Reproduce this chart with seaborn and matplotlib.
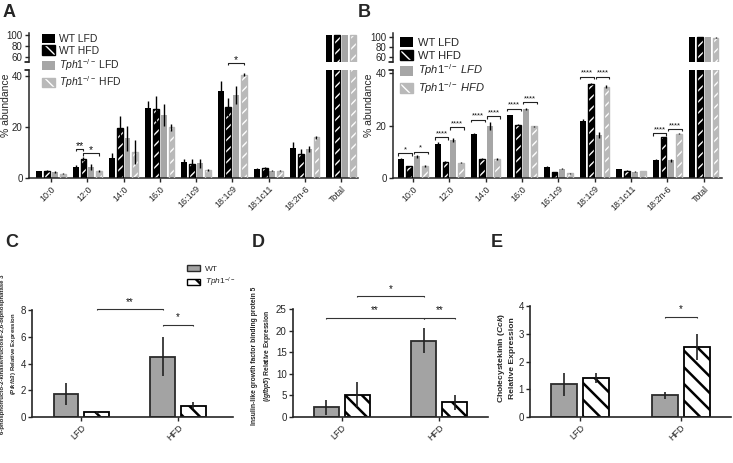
import numpy as np
import pandas as pd
import matplotlib
matplotlib.use("Agg")
import matplotlib.pyplot as plt
import seaborn as sns
from matplotlib.patches import Patch, Rectangle
from matplotlib.container import BarContainer

sns.set_theme(style="ticks")
plt.rcParams["font.family"] = ["Liberation Sans", "DejaVu Sans"]
plt.rcParams["mathtext.fontset"] = "custom"
plt.rcParams["mathtext.rm"] = "Liberation Sans"
plt.rcParams["mathtext.it"] = "Liberation Sans:italic"
plt.rcParams["mathtext.bf"] = "Liberation Sans:bold"
plt.rcParams["mathtext.sf"] = "Liberation Sans:bold:italic"

# ---------------- data ----------------
fatty_acids = ["10:0", "12:0", "14:0", "16:0", "16:1c9", "18:1c9", "18:1c11", "18:2n-6", "Total"]
groups = ["WT LFD", "WT HFD", "Tph1 LFD", "Tph1 HFD"]

A_wt_lfd = [2.6, 4.4, 7.9, 27.4, 6.1, 33.9, 3.7, 11.8, 100]
A_wt_hfd = [2.9, 7.5, 19.6, 27.0, 5.6, 27.9, 4.1, 9.3, 100]
A_tph_lfd = [2.4, 4.4, 15.5, 24.6, 5.7, 32.4, 2.9, 11.5, 100]
A_tph_hfd = [1.7, 2.9, 10.2, 19.9, 3.3, 40.5, 2.9, 15.9, 100]
A_wt_lfd_err = [0.3, 0.5, 1.7, 2.6, 1.2, 4.2, 0.2, 2.4, 0.5]
A_wt_hfd_err = [0.4, 0.8, 4.6, 5.0, 1.7, 3.6, 0.3, 1.9, 0.5]
A_tph_lfd_err = [0.3, 1.2, 4.8, 4.2, 1.7, 3.5, 0.3, 1.2, 0.5]
A_tph_hfd_err = [0.3, 0.4, 4.7, 1.3, 0.4, 0.7, 0.3, 0.7, 0.5]

B_wt_lfd = [7.3, 13.1, 16.9, 24.0, 4.2, 21.8, 3.3, 6.9, 100]
B_wt_hfd = [4.5, 6.2, 7.3, 20.4, 2.1, 35.8, 2.8, 15.5, 100]
B_tph_lfd = [8.3, 14.5, 19.9, 26.3, 3.6, 16.3, 2.4, 6.8, 100.5]
B_tph_hfd = [4.6, 5.9, 7.2, 19.7, 1.8, 34.9, 2.6, 16.9, 99]
B_wt_lfd_err = [0.3, 0.5, 0.4, 0.2, 0.2, 0.8, 0.1, 0.3, 0.2]
B_wt_hfd_err = [0.2, 0.2, 0.2, 0.3, 0.1, 0.3, 0.1, 0.2, 0.2]
B_tph_lfd_err = [0.6, 0.8, 1.5, 0.5, 0.3, 1.2, 0.1, 0.6, 0.5]
B_tph_hfd_err = [0.3, 0.2, 0.3, 0.3, 0.1, 0.5, 0.1, 0.3, 0.5]

# brackets: (category, group a, group b, height, label)
A_brackets = [(1, 0, 1, 11.3, "**"), (1, 1, 3, 9.7, "*"), (5, 1, 3, 45.0, "*")]
B_brackets = [(0, 0, 1, 9.4, "*"), (0, 2, 3, 10.0, "*"),
              (1, 0, 1, 15.5, "****"), (1, 2, 3, 19.4, "****"),
              (2, 0, 1, 22.2, "****"), (2, 2, 3, 23.5, "****"),
              (3, 0, 1, 26.5, "****"), (3, 2, 3, 29.0, "****"),
              (5, 0, 1, 38.7, "****"), (5, 2, 3, 38.7, "****"),
              (7, 0, 1, 17.0, "****"), (7, 2, 3, 18.7, "****")]

diets = ["LFD", "HFD"]
genotypes = ["WT", "Tph1"]
C_wt = [1.72, 4.5]
C_wt_err = [0.8, 1.45]
C_tph = [0.35, 0.85]
C_tph_err = [0.1, 0.25]
D_wt = [2.2, 17.6]
D_wt_err = [1.7, 2.9]
D_tph = [5.2, 3.4]
D_tph_err = [2.8, 1.8]
E_wt = [1.18, 0.78]
E_wt_err = [0.42, 0.12]
E_tph = [1.4, 2.52]
E_tph_err = [0.18, 0.47]
# (diet a, geno a, diet b, geno b, height, label)
C_brackets = [(0, 1, 1, 0, 8.05, "**"), (1, 0, 1, 1, 6.9, "*")]
D_brackets = [(0, 0, 1, 0, 23.0, "**"), (1, 0, 1, 1, 23.0, "**"), (0, 1, 1, 0, 28.0, "*")]
E_brackets = [(1, 0, 1, 1, 3.62, "*")]

# ---------------- styling ----------------
BLACK = "#000000"
GREY = "#a6a6a6"
LGREY = "#b9b9b9"
fa_colors = [BLACK, BLACK, GREY, LGREY]
fa_hatched = [False, True, False, True]

W, H = 733, 463
fig = plt.figure(figsize=(W / 100, H / 100), dpi=100)


def add_ax(l, t, r, b):
    return fig.add_axes([l / W, 1 - b / H, (r - l) / W, (b - t) / H])


def set_hlw(p, lw):
    if hasattr(p, "set_hatch_linewidth"):
        try:
            p.set_hatch_linewidth(lw)
        except Exception:
            pass


def bar_containers(ax):
    return [c for c in ax.containers if isinstance(c, BarContainer)]


def bracket(ax, x1, x2, y, label, tick, fs, lw=0.8, color="#222222", pad=0.0):
    ax.plot([x1, x1, x2, x2], [y - tick, y, y, y - tick], color=color, lw=lw,
            clip_on=False, solid_capstyle="butt", zorder=6)
    ax.text((x1 + x2) / 2, y + pad, label, ha="center", va="bottom", fontsize=fs,
            color="#111111", clip_on=False, zorder=6)


def draw_fa(ax_top, ax_bot, vals, errs, ylim_top, ylim_bot, xlim, brackets, use_edges):
    df = pd.DataFrame({
        "fa": np.tile(fatty_acids, len(groups)),
        "group": np.repeat(groups, len(fatty_acids)),
        "value": np.concatenate(vals),
    })
    plt.rcParams["hatch.linewidth"] = 1.0
    for ax in (ax_top, ax_bot):
        sns.barplot(data=df, x="fa", y="value", hue="group", order=fatty_acids,
                    hue_order=groups, palette=fa_colors, width=0.86, gap=0.25,
                    saturation=1, errorbar=None, legend=False, ax=ax, linewidth=0)
        conts = bar_containers(ax)
        for h, cont in enumerate(conts):
            xs, ys = [], []
            for rect in cont:
                if fa_hatched[h]:
                    rect.set_edgecolor("white")
                    rect.set_hatch("///")
                    rect.set_linewidth(0)
                    set_hlw(rect, 1.0)
                    ax.add_patch(Rectangle(rect.get_xy(), rect.get_width(), rect.get_height(),
                                           fill=False, ec=fa_colors[h], lw=1.0, zorder=3))
                else:
                    rect.set_edgecolor("none")
                xs.append(rect.get_x() + rect.get_width() / 2)
                ys.append(rect.get_height())
            ax.errorbar(xs, ys, yerr=errs[h], fmt="none", ecolor="black", elinewidth=1.0,
                        capsize=0, zorder=5)
        ax.set_xlim(*xlim)
        ax.set_xlabel("")
        ax.set_ylabel("")
        for s in ("top", "right"):
            ax.spines[s].set_visible(False)
        ax.spines["left"].set_linewidth(1.1)
        ax.spines["bottom"].set_linewidth(1.1)
        ax.tick_params(axis="both", direction="out", length=3, width=1.0, labelsize=7, pad=1.5)
    ax_top.set_ylim(*ylim_top)
    ax_top.set_yticks([60, 80, 100])
    ax_top.spines["bottom"].set_visible(False)
    ax_top.set_xticks([])
    ax_top.plot([-0.012, 0], [0, 0], transform=ax_top.transAxes, color="black", lw=1.1, clip_on=False)
    ax_bot.set_ylim(*ylim_bot)
    ax_bot.set_yticks([0, 20, 40])
    ax_bot.plot([-0.012, 0.0], [1, 1], transform=ax_bot.transAxes, color="black", lw=1.1, clip_on=False)
    ax_bot.set_xticks(range(len(fatty_acids)))
    ax_bot.set_xticklabels(fatty_acids, rotation=45, ha="right", rotation_mode="anchor", fontsize=6.5)
    conts = bar_containers(ax_bot)
    for (c, a, b, y, lab) in brackets:
        ra = conts[a][c]
        rb = conts[b][c]
        if use_edges:
            x1 = ra.get_x()
            x2 = rb.get_x() + rb.get_width()
            bracket(ax_bot, x1, x2, y, lab, 0.9, 5.5, lw=0.8)
        else:
            x1 = ra.get_x() + ra.get_width() / 2
            x2 = rb.get_x() + rb.get_width() / 2
            bracket(ax_bot, x1, x2, y, lab, 0.9, 7.5, lw=0.8, pad=-0.6)


axA_top = add_ax(29, 33, 358, 62)
axA_bot = add_ax(29, 70, 358, 178)
axB_top = add_ax(393, 33, 722, 62)
axB_bot = add_ax(393, 70, 722, 178)

draw_fa(axA_top, axA_bot, [A_wt_lfd, A_wt_hfd, A_tph_lfd, A_tph_hfd],
        [A_wt_lfd_err, A_wt_hfd_err, A_tph_lfd_err, A_tph_hfd_err],
        (51, 104), (0, 42.3), (-0.61, 8.47), A_brackets, False)
draw_fa(axB_top, axB_bot, [B_wt_lfd, B_wt_hfd, B_tph_lfd, B_tph_hfd],
        [B_wt_lfd_err, B_wt_hfd_err, B_tph_lfd_err, B_tph_hfd_err],
        (50, 108), (0, 41.2), (-0.55, 8.5), B_brackets, True)


def fa_handles():
    return [Patch(fc=BLACK, ec=BLACK, lw=0),
            (Patch(fc=BLACK, ec="white", hatch="\\\\", lw=0), Patch(fc="none", ec=BLACK, lw=1.0)),
            Patch(fc=GREY, ec=GREY, lw=0),
            (Patch(fc=LGREY, ec="white", hatch="\\\\", lw=0), Patch(fc="none", ec=LGREY, lw=1.0))]


labels_A = ["WT LFD", "WT HFD", r"$\mathit{Tph1}^{-/-}$ LFD", r"$\mathit{Tph1}^{-/-}$ HFD"]
labels_B = ["WT LFD", "WT HFD", r"$\mathit{Tph1}^{-/-}$ $\mathit{LFD}$", r"$\mathit{Tph1}^{-/-}$ $\mathit{HFD}$"]
fig.legend(fa_handles(), labels_A, loc="upper left", bbox_to_anchor=(42 / W, 1 - 34 / H),
           frameon=False, fontsize=7.5, handlelength=1.2, handleheight=1.0,
           labelspacing=0.12, handletextpad=0.4, borderpad=0, borderaxespad=0)
fig.legend(fa_handles(), labels_B, loc="upper left", bbox_to_anchor=(400 / W, 1 - 37 / H),
           frameon=False, fontsize=8, handlelength=1.2, handleheight=1.0,
           labelspacing=0.18, handletextpad=0.4, borderpad=0, borderaxespad=0)

fig.text(6 / W, 1 - 105 / H, "% abundance", rotation=90, ha="center", va="center", fontsize=7.5)
fig.text(369 / W, 1 - 105 / H, "% abundance", rotation=90, ha="center", va="center", fontsize=7.5)

# ---------------- panels C, D, E ----------------
WT_GREY = "#a3a3a3"
EDGE = "#2b2b2b"


def draw_expr(ax, wt, wt_err, tph, tph_err, ylim, yticks, brackets):
    df = pd.DataFrame({
        "diet": np.tile(diets, 2),
        "genotype": np.repeat(genotypes, len(diets)),
        "value": np.concatenate([wt, tph]),
    })
    plt.rcParams["hatch.linewidth"] = 1.8
    sns.barplot(data=df, x="diet", y="value", hue="genotype", order=diets, hue_order=genotypes,
                palette=[WT_GREY, "white"], width=0.635, gap=0.19, saturation=1,
                errorbar=None, legend=False, ax=ax, linewidth=1.3, edgecolor=EDGE)
    errs = [wt_err, tph_err]
    conts = bar_containers(ax)
    for h, cont in enumerate(conts):
        xs, ys = [], []
        for rect in cont:
            if h == 1:
                rect.set_facecolor("white")
                rect.set_edgecolor("black")
                rect.set_hatch("\\\\")
                set_hlw(rect, 1.8)
            xs.append(rect.get_x() + rect.get_width() / 2)
            ys.append(rect.get_height())
        ax.errorbar(xs, ys, yerr=errs[h], fmt="none", ecolor="#222222", elinewidth=1.2,
                    capsize=0, zorder=5)
    ax.set_ylim(*ylim)
    ax.set_yticks(yticks)
    ax.set_xlabel("")
    ax.set_ylabel("")
    for s in ("top", "right"):
        ax.spines[s].set_visible(False)
    ax.spines["left"].set_linewidth(1.2)
    ax.spines["bottom"].set_linewidth(1.2)
    ax.tick_params(axis="both", direction="out", length=3, width=1.0, labelsize=7, pad=1.5)
    ax.set_xticks(range(len(diets)))
    ax.set_xticklabels(diets, rotation=45, ha="right", rotation_mode="anchor", fontsize=6.5)
    span = ylim[1] - ylim[0]
    for (da, ga, db, gb, y, lab) in brackets:
        ra = conts[ga][da]
        rb = conts[gb][db]
        x1 = ra.get_x() + ra.get_width() / 2
        x2 = rb.get_x() + rb.get_width() / 2
        bracket(ax, x1, x2, y, lab, span * 0.01, 7, lw=0.8, color="#333333", pad=span * 0.02)


axC = add_ax(32, 310, 233, 417)
axD = add_ax(293, 309, 488, 417)
axE = add_ax(530, 306, 731, 417)
draw_expr(axC, C_wt, C_wt_err, C_tph, C_tph_err, (0, 8), [0, 2, 4, 6, 8], C_brackets)
draw_expr(axD, D_wt, D_wt_err, D_tph, D_tph_err, (0, 25), [0, 5, 10, 15, 20, 25], D_brackets)
draw_expr(axE, E_wt, E_wt_err, E_tph, E_tph_err, (0, 4), [0, 1, 2, 3, 4], E_brackets)
axC.set_xlim(-0.51, 1.57)
axD.set_xlim(-0.5, 1.5)
axE.set_xlim(-0.5, 1.5)

leg_handles = [Patch(fc=WT_GREY, ec=EDGE, lw=1.0), Patch(fc="white", ec="black", hatch="\\\\", lw=1.0)]
fig.legend(leg_handles, ["WT", r"$\mathit{Tph1}^{-/-}$"], loc="upper left",
           bbox_to_anchor=(187 / W, 1 - 265 / H), frameon=False, fontsize=6,
           handlelength=1.6, handleheight=0.75, labelspacing=0.35, handletextpad=0.5,
           borderpad=0, borderaxespad=0)

fig.text(9 / W, 1 - 354 / H,
         "6-phosphofructo-2-kinase/fructose-2,6-biphosphatase 3\n($\\mathsf{Pfkfb3}$) Relative Expression",
         rotation=90, ha="center", va="center", fontsize=4.3, weight="bold", linespacing=1.6,
         multialignment="center")
fig.text(262 / W, 1 - 356 / H,
         "Insulin-like growth factor binding protein 5\n($\\mathsf{Igfbp5}$) Relative Expression",
         rotation=90, ha="center", va="center", fontsize=4.9, weight="bold", linespacing=1.6,
         multialignment="center")
fig.text(506 / W, 1 - 358 / H,
         "Cholecystekinin ($\\mathsf{Cck}$)\nRelative Expression",
         rotation=90, ha="center", va="center", fontsize=6.1, weight="bold", linespacing=1.35,
         multialignment="center")

# panel letters
for lab, x, y in [("A", 3, 4), ("B", 358, 4), ("C", 5, 234), ("D", 252, 234), ("E", 491, 234)]:
    fig.text(x / W, 1 - y / H, lab, fontsize=13, weight="bold", ha="left", va="top")

fig.savefig("out.png", dpi=100)
